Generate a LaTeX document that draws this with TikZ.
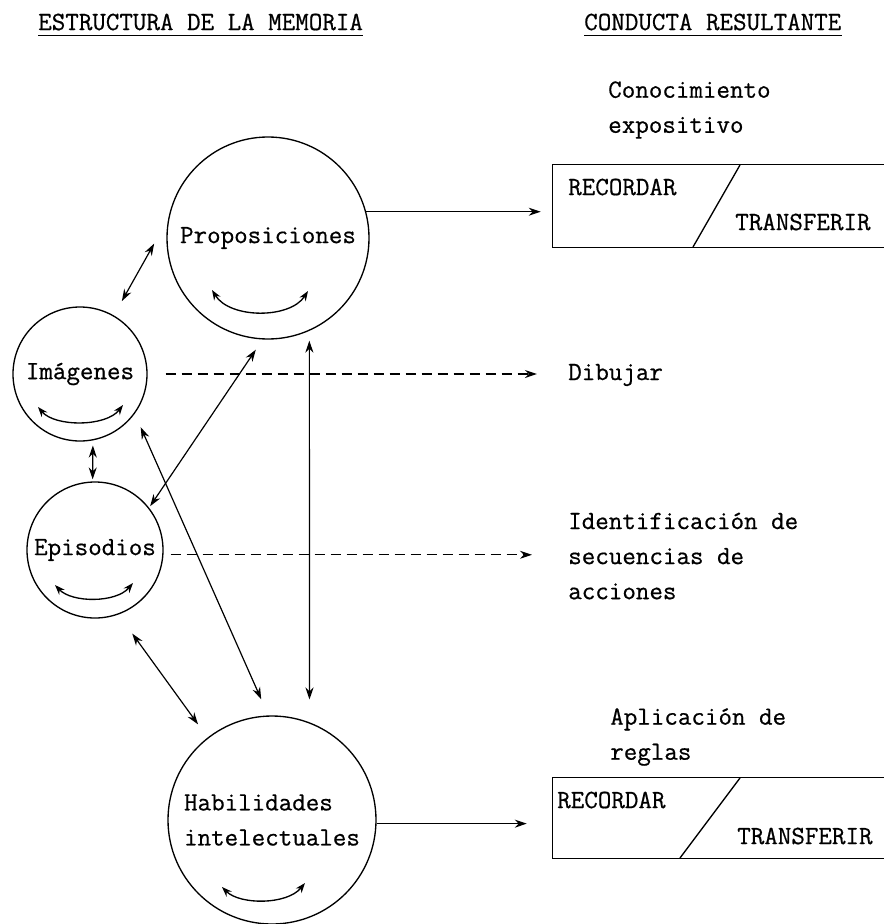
\documentclass[tikz,border=0pt]{standalone}
\usepackage{fontspec}
\newfontfamily\tw[FakeBold=0.6]{Latin Modern Mono}
\usetikzlibrary{arrows.meta}
\begin{document}
\begin{tikzpicture}[x=0.75pt,y=-0.75pt]
\tikzset{
  tfont/.style={font=\tw\fontsize{19.7pt}{26.3pt}\selectfont},
  circ/.style={circle, draw, line width=1pt, inner sep=0pt, tfont, align=left},
  txt/.style={inner sep=0pt, tfont, align=left, anchor=west},
  boxnode/.style={inner sep=0pt, minimum width=248.25pt},
  outline/.style={line width=1pt},
  arr/.style={line width=0.9pt, -{Stealth[length=9pt,width=6pt]}},
  darr/.style={line width=0.9pt, {Stealth[length=9pt,width=6pt]}-{Stealth[length=9pt,width=6pt]}},
  dsh/.style={arr, dash pattern=on 7.5pt off 4.5pt},
  rot/.style={line width=1pt, {Stealth[length=7.5pt,width=5.5pt]}-{Stealth[length=7.5pt,width=5.5pt]}},
}
\useasboundingbox (0,0) rectangle (884,924);

% headers
\node[txt] (h1) at (38,22) {ESTRUCTURA DE LA MEMORIA};
\node[txt] (h2) at (584,22) {CONDUCTA RESULTANTE};
\draw[line width=0.9pt] ([yshift=-3.5pt]h1.south west) -- ([yshift=-3.5pt]h1.south east);
\draw[line width=0.9pt] ([yshift=-3.8pt]h2.south west) -- ([yshift=-3.8pt]h2.south east);

% memory structure circles
\node[circ, minimum size=151.5pt] (prop) at (268,238) {Proposiciones};
\node[circ, minimum size=100.5pt] (img) at (80,374) {Imágenes};
\node[circ, minimum size=102pt] (epi) at (95,550) {Episodios};
\node[circ, minimum size=156pt] (hab) at (272,820) {Habilidades\\intelectuales};

% internal rotating arcs
\draw[rot] (212,290) .. controls (230,319) and (290,319) .. (308,291);
\draw[rot] (38,407) .. controls (55,427) and (106,427) .. (123,405);
\draw[rot] (55,585) .. controls (72,603) and (116,603) .. (133,583);
\draw[rot] (222,887) .. controls (240,905) and (287,905) .. (305,883);

% connectors between circles
\draw[darr, shorten <=21.5pt, shorten >=12.3pt] (prop.169) -- (img.60);
\draw[darr, shorten <=3.8pt, shorten >=1.5pt] (img.281) -- (epi.92);
\draw[darr, shorten <=1.4pt, shorten >=9.2pt] (epi.38) -- (prop.267);
\draw[darr, shorten <=11pt, shorten >=13.2pt] (img.324) -- (hab.92);
\draw[darr, shorten <=7.3pt, shorten >=17.1pt] (prop.294) -- (hab.69);
\draw[darr, shorten <=17.6pt, shorten >=12.2pt] (epi.290) -- (hab.128);

% right column texts
\node[txt] (conoc) at (608,110) {Conocimiento\\expositivo};
\node[txt] (dib) at (568,375) {Dibujar};
\node[txt] (ident) at (568,556) {Identificación de\\secuencias de\\acciones};
\node[txt] (aplic) at (610,737) {Aplicación de\\reglas};

% boxes
\node[boxnode, minimum height=61.5pt] (box1) at (718.5,206) {};
\draw[outline] (box1.north east) -- (box1.north west) -- (box1.south west) -- (box1.south east);
\draw[outline] (740,165) -- (693,247);
\node[txt] (rec1) at (568,187) {RECORDAR};
\node[txt] (tra1) at (735,222) {TRANSFERIR};

\node[boxnode, minimum height=60pt] (box2) at (718.5,818) {};
\draw[outline] (box2.north east) -- (box2.north west) -- (box2.south west) -- (box2.south east);
\draw[outline] (740,778) -- (680,858);
\node[txt] (rec2) at (557,800) {RECORDAR};
\node[txt] (tra2) at (737,836) {TRANSFERIR};

% connectors to resulting behaviour
\draw[arr, shorten >=9pt] (prop.15) -- (prop.15 -| box1.west);
\draw[dsh, shorten <=13.5pt, shorten >=23.3pt] (img.east) -- (img.east -| dib.west);
\draw[dsh, shorten <=5.4pt, shorten >=27pt] (epi.-4) -- (epi.-4 -| ident.west);
\draw[arr, shorten >=19.5pt] (hab.-2) -- (hab.-2 -| box2.west);
\end{tikzpicture}
\end{document}
